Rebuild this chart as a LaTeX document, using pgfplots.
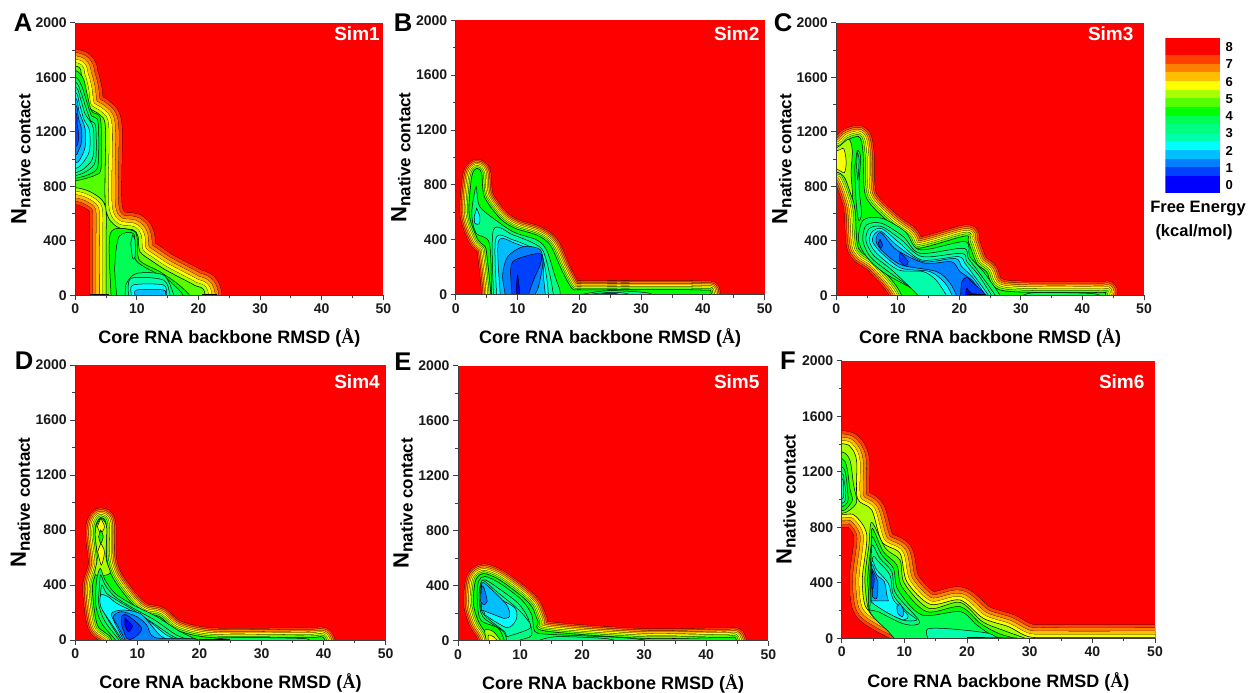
\documentclass[border=0pt]{standalone}
\usepackage{fontspec}
\usepackage{pgfplots}
\usepackage{pgfplotstable}
\pgfplotsset{compat=1.18}
\setmainfont{Liberation Sans}
\newfontfamily\lserif{Liberation Serif}
\definecolor{cA}{HTML}{FF4000}\definecolor{cB}{HTML}{FF8000}\definecolor{cC}{HTML}{FFBF00}
\definecolor{cD}{HTML}{FFFF00}\definecolor{cE}{HTML}{AAFF00}\definecolor{cF}{HTML}{55FF00}
\definecolor{cG}{HTML}{00FF00}\definecolor{cH}{HTML}{00FF55}\definecolor{cI}{HTML}{00FF80}
\definecolor{cJ}{HTML}{00FFAA}\definecolor{cK}{HTML}{00FFFF}\definecolor{cL}{HTML}{00BFFF}
\definecolor{cM}{HTML}{0080FF}\definecolor{cN}{HTML}{0040FF}\definecolor{cO}{HTML}{0000FF}
\definecolor{cR}{HTML}{FF0000}
\newcommand{\ring}[3]{%
 \addplot[black,smooth,line join=round,line width=#3 pt+0.55pt] table {#1};
 \addplot[#2,smooth,line join=round,line width=#3 pt] table {#1};}
\newcommand{\shellfour}[2]{\ring{#1}{cA}{8*#2}\ring{#1}{cB}{6*#2}\ring{#1}{cC}{4*#2}\ring{#1}{cD}{2*#2}}
\newcommand{\shellfive}[2]{\ring{#1}{cA}{10*#2}\ring{#1}{cB}{8*#2}\ring{#1}{cC}{6*#2}\ring{#1}{cD}{4*#2}\ring{#1}{cE}{2*#2}}
\newcommand{\shellsix}[2]{\ring{#1}{cA}{12*#2}\ring{#1}{cB}{10*#2}\ring{#1}{cC}{8*#2}\ring{#1}{cD}{6*#2}\ring{#1}{cE}{4*#2}\ring{#1}{cF}{2*#2}}
\newcommand{\pfill}[2]{\addplot[fill=#2,draw=black,line width=0.55pt,smooth] table {#1};}
\newcommand{\reg}[2]{\addplot[fill=#1,draw=black,line width=0.5pt,smooth] coordinates {#2} -- cycle;}
\pgfplotstableread{
x y
5.0 -300
5.0 0
5.0 400
4.9 650
3.2 740
0 790
-8 800
-8 1680
0 1682
1.0 1616
1.6 1518
2.1 1384
4.0 1323
4.9 1225
4.9 650
6.7 504
9.4 480
10.2 430
10.5 320
12.5 250
14.5 190
17 130
19.5 70
21 20
21.5 -300
}\pA
\pgfplotstableread{
x y
5.66 -300
5.66 10
5.0 300
4.75 350
3.5 410
2.16 593
2.6 861
3.4 921
4.2 885
4.64 715
7.17 556
9.6 484
13.1 435
15.3 362
17.15 180
18.8 46
20.1 36
27.1 36
39.8 34
41.4 0
42 -300
}\pB
\pgfplotstableread{
x y
10.6 -300
10.6 0
6.55 235
3.6 345
3.1 600
2.7 700
1.4 860
0 905
-8 905
-8 1082
0 1082
2 1145
3.6 1165
4.1 1127
4.4 1017
4.8 724
8.45 540
11.7 430
13.3 345
20.9 435
21.45 394
22.8 235
24.4 174
27.1 34
42.6 20
43.7 0
44 -300
}\pC
\pgfplotstableread{
x y
5.85 -300
5.85 0
3.55 109
2.75 376
3.4 497
3.7 570
3.2 764
3.4 848
4.1 890
4.95 848
5.05 594
6.1 448
9.1 267
11.2 194
13.6 170
16.3 73
22.2 17
37.3 17
40.2 0
40.8 -300
}\pD
\pgfplotstableread{
x y
4.9 -300
4.9 0
3.3 139
2.5 260
2.6 382
3 455
4.1 489
6.5 448
10 333
11.9 248
12.9 139
14 71
29.9 17
42.75 22
44.9 0
45.4 -300
}\pE
\pgfplotstableread{
x y
9.85 -300
9.85 0
9 72
6.1 144
3.8 228
3.3 432
4 744
2.1 884
0 893
-8 893
-8 1402
0 1402
1.6 1368
2.4 1272
2.5 1008
4.8 924
6.4 696
9.3 612
10.4 408
14.1 245
18.9 276
22.6 144
26.6 84
29.8 12
34 5
51 5
58 5
58 -300
}\pF
\pgfplotsset{panel/.style={
 scale only axis,xmin=0,xmax=50,ymin=0,ymax=2000,
 axis lines=left,axis line style={-,line width=0.9pt,color=black!75},
 axis background/.style={fill=cR},
 xtick={0,10,20,30,40,50},ytick={0,400,800,1200,1600,2000},minor tick num=1,
 tick align=outside,major tick length=5pt,minor tick length=3pt,
 tick style={line width=0.9pt,color=black!75},
 /pgf/number format/1000 sep={},/pgf/number format/assume math mode=true,
 tick label style={font=\bfseries\fontsize{14}{14}\selectfont,color=black!90},
 axis on top,
 xlabel={Core RNA backbone RMSD ({\lserif Å})},
 ylabel={{\fontsize{22}{22}\selectfont N}\raisebox{-4pt}{\fontsize{17}{17}\selectfont native contact}},
 xlabel style={at={(axis description cs:0.5,-0.157)},anchor=center,font=\bfseries\fontsize{18}{18}\selectfont},
 ylabel style={at={(axis description cs:-0.177,0.5)},anchor=center,font=\bfseries},
}}
\newcommand{\lab}[3]{\node[font=\bfseries\fontsize{25.6}{26}\selectfont,inner sep=0pt] at (#1pt,#2pt) {#3};}
\newcommand{\simlab}[3]{\node[font=\bfseries\fontsize{19}{19}\selectfont,text=white,inner sep=0pt] at (#1pt,#2pt) {#3};}
\begin{document}
\begin{tikzpicture}
\path[use as bounding box] (0,0) rectangle (1251pt,693pt);
% ---------- A
\begin{axis}[panel,at={(75.3pt,397.7pt)},width=308pt,height=272.6pt]
\shellfive{\pA}{3.3}
\pfill{\pA}{cF}
\reg{cG}{(-3,1650)(0,1650)(1.3,1590)(1.9,1480)(2.65,1350)(4.1,1290)(4.2,940)(3.2,880)(0,840)(-3,840)}
\reg{cH}{(-3,1600)(0,1600)(1.0,1540)(1.8,1430)(2.6,1320)(3.7,1270)(3.7,960)(2.6,895)(0,858)(-3,858)}
\reg{cI}{(-3,1565)(0,1565)(0.9,1490)(1.7,1380)(2.5,1280)(3.3,1240)(3.3,990)(2,915)(0,878)(-3,878)}
\reg{cJ}{(-3,1530)(0,1530)(0.8,1450)(1.6,1330)(2.9,1230)(2.9,1020)(1.7,940)(0,900)(-3,900)}
\reg{cK}{(-3,1490)(0,1490)(0.7,1400)(1.4,1290)(2.3,1210)(2.3,1060)(1.2,970)(0,930)(-3,930)}
\reg{cL}{(-3,1450)(0,1450)(0.6,1350)(1.6,1220)(1.6,1090)(0.8,1000)(0,970)(-3,970)}
\reg{cM}{(-3,1400)(0,1400)(0.5,1300)(1.0,1220)(1.0,1120)(0.4,1050)(0,1030)(-3,1030)}
\reg{cN}{(-3,1345)(0,1345)(0.3,1250)(0.5,1200)(0.5,1140)(0,1090)(-3,1090)}
\reg{cG}{(5.8,-40)(5.8,0)(5.7,455)(9.4,474)(10.1,406)(10.4,259)(13.7,174)(16.5,88)(18.6,0)(18.8,-40)}
\reg{cH}{(6.7,-40)(6.7,0)(6.4,210)(7.1,430)(9.5,450)(9.8,260)(13.2,160)(14.8,125)(17.3,15)(17.6,-40)}
\reg{cI}{(9.3,443)(9.7,406)(9.7,284)(9.3,271)(9.0,384)}
\reg{cI}{(8.1,-40)(8.1,0)(8.3,88)(10,161)(14.3,149)(15.9,15)(16.1,-40)}
\reg{cJ}{(8.6,-40)(8.6,0)(9.1,125)(14.3,112)(15.4,0)(15.5,-40)}
\reg{cK}{(9.1,-40)(9.1,0)(9.4,76)(14.3,76)(14.8,0)(14.9,-40)}
\reg{cL}{(9.7,-40)(9.7,0)(10,39)(14.3,39)(14.6,0)(14.7,-40)}
\addplot[black,line width=1.6pt] coordinates {(2.4,0)(5.5,0)};
\addplot[black,line width=1.6pt] coordinates {(20.5,0)(23,0)};
\end{axis}
% ---------- B
\begin{axis}[panel,at={(455.7pt,398.3pt)},width=309pt,height=274.4pt]
\shellsix{\pB}{1.5}
\pfill{\pB}{cG}
\reg{cI}{(5.8,-40)(5.8,0)(5.45,375)(3.3,448)(2.6,593)(3.3,788)(3.9,642)(7.2,520)(9.6,452)(13.1,399)(14.7,326)(16.1,131)(16.9,22)(16.6,-40)}
\reg{cK}{(3.4,630)(3.9,569)(3.8,516)(3.1,520)(3.0,569)}
\reg{cJ}{(6.1,-40)(6.1,0)(6.1,472)(9.3,435)(12.6,375)(14.2,314)(15.3,131)(15.8,0)(15.8,-40)}
\reg{cK}{(6.6,-40)(6.6,0)(6.5,411)(9.3,399)(12.6,338)(13.9,302)(14.7,131)(15,0)(15,-40)}
\reg{cL}{(7.2,-40)(7.2,0)(6.9,387)(9.6,375)(13.9,277)(14.2,131)(14.5,0)(14.5,-40)}
\reg{cM}{(8,-40)(8,0)(7.6,143)(8.4,277)(10.9,350)(13.6,331)(14.1,229)(13.4,58)(12.8,0)(12.8,-40)}
\reg{cN}{(9.1,-40)(9.1,0)(8.9,180)(9.6,253)(13.6,302)(13.75,229)(12.6,107)(11.8,0)(11.8,-40)}
\reg{cO}{(9.8,-40)(9.8,0)(10,143)(10.4,0)(10.4,-40)}
\reg{cI}{(20.4,-40)(20.4,0)(23.9,27)(27.1,27)(31.4,10)(33,-40)}
\reg{cK}{(21.7,-40)(21.7,0)(24.4,15)(26.6,15)(28.2,0)(28.2,-40)}
\reg{cN}{(23,-40)(23,0)(25,10)(26.6,0)(26.6,-40)}
\addplot[black,line width=1.4pt] coordinates {(4.4,0)(5.2,0)};
\addplot[black,line width=1.4pt] coordinates {(38,0)(44,0)};
\end{axis}
% ---------- C
\begin{axis}[panel,at={(836.3pt,397.7pt)},width=307.7pt,height=272.6pt]
\shellsix{\pC}{1.8}
\pfill{\pC}{cG}
\reg{cE}{(-3,1082)(0,1082)(2,1145)(2.6,1060)(2.4,900)(2.6,720)(1.4,860)(0,905)(-3,905)}
\reg{cD}{(-3,1060)(0,1060)(1.2,1075)(1.6,980)(1.3,900)(0,925)(-3,925)}
\reg{cH}{(3.4,1066)(3.95,1017)(3.7,797)(4.1,601)(3.6,552)(3.2,699)(3.0,944)}
\reg{cI}{(3.4,1054)(3.7,993)(3.5,846)(3.3,944)}
\reg{cH}{(14.7,-40)(14.7,-10)(7.9,161)(4.9,284)(3.6,406)(4.4,553)(7.4,565)(11.2,467)(13.6,333)(20.9,394)(21.7,284)(23.9,174)(26.6,0)(26.6,-40)}
\reg{cI}{(14.1,-40)(14.1,-10)(8.45,174)(5.5,284)(4.3,406)(4.9,516)(7.4,528)(10.9,430)(13.6,308)(20.6,345)(21.45,271)(23.3,161)(25.8,0)(25.8,-40)}
\reg{cJ}{(13.5,-40)(13.5,-10)(9,186)(6,296)(4.8,406)(5.4,491)(7.4,504)(10.6,406)(13.9,284)(20.4,308)(21.2,247)(23.1,149)(25.2,0)(25.2,-40)}
\reg{cK}{(18,-40)(18,-10)(16.2,112)(14.1,174)(10.1,186)(6.55,308)(5.4,394)(5.8,465)(7.4,489)(10.35,381)(13.9,259)(19.8,284)(20.9,235)(22.5,137)(24.7,0)(24.7,-40)}
\reg{cL}{(18.9,-40)(18.9,-10)(17.7,88)(15.2,174)(10.6,198)(7.4,308)(5.9,394)(6.3,455)(7.4,467)(10.1,357)(14.1,247)(19.3,271)(20.4,210)(22.3,125)(24.2,0)(24.2,-40)}
\reg{cM}{(19.6,-40)(19.6,-10)(18.5,88)(16.3,174)(10.6,222)(7.6,320)(6.45,394)(6.7,443)(7.4,455)(9.8,333)(14.4,235)(18.7,247)(20.1,174)(22,112)(23.9,0)(23.9,-40)}
\reg{cN}{(7.1,411)(7.5,369)(7.2,345)(6.8,381)}
\reg{cN}{(10.35,315)(11.7,247)(11.15,215)(10.2,259)}
\reg{cN}{(20.2,-40)(20.2,0)(20.4,100)(21.2,132)(22.3,88)(24.4,0)(24.4,-40)}
\reg{cO}{(21,-40)(21,0)(21.2,51)(21.9,15)(24.4,0)(24.4,-40)}
\reg{cH}{(30.4,-40)(30.4,0)(32.6,20)(40.7,15)(42.8,0)(42.8,-40)}
\addplot[black,line width=1.6pt] coordinates {(21.2,0)(24.2,0)};
\addplot[black,line width=1.2pt] coordinates {(12,0)(14.5,0)};
\end{axis}
% ---------- D
\begin{axis}[panel,at={(75.3pt,53pt)},width=310.4pt,height=275pt]
\shellsix{\pD}{1.6}
\pfill{\pD}{cG}
\reg{cE}{(4.1,890)(5.05,825)(4.95,595)(5.6,485)(3.2,475)(3.55,595)(3.2,764)(3.4,836)}
\reg{cD}{(4.1,885)(4.7,824)(4.1,776)(3.55,824)}
\reg{cD}{(4.1,703)(4.7,642)(4.2,545)(3.6,642)}
\reg{cG}{(4.1,800)(4.5,752)(4.1,703)(3.75,752)}
\reg{cH}{(6.65,-40)(6.65,-10)(4.25,121)(3.3,255)(3.4,424)(4,521)(4.8,436)(6.4,339)(9.35,255)(13.1,170)(16.9,61)(20.1,-10)(20.1,-40)}
\reg{cI}{(7.2,-40)(7.2,-10)(4.8,133)(3.8,255)(3.9,400)(4.1,473)(4.8,400)(6.4,315)(9.35,230)(12.8,145)(16.3,36)(19,-10)(19,-40)}
\reg{cJ}{(7.45,-40)(7.45,-10)(5.3,145)(4.1,255)(4.1,352)(4.3,400)(5.05,339)(6.65,291)(9.35,218)(12.6,121)(15.8,24)(17.9,-10)(17.9,-40)}
\reg{cK}{(7.7,-40)(7.7,-10)(5.6,133)(4.1,242)(4.1,327)(5.3,315)(6.65,267)(9.35,206)(12,133)(14.7,36)(16.9,-10)(16.9,-40)}
\reg{cL}{(7.85,-40)(7.85,-10)(6.4,121)(5.85,194)(7.7,218)(10.4,194)(12,121)(13.6,36)(15.25,-10)(15.25,-40)}
\reg{cM}{(8.15,-40)(8.15,-10)(6.9,97)(6.1,170)(7.45,206)(9.9,170)(11.5,109)(12.85,17)(19,10)(20,-10)(20,-40)}
\reg{cN}{(7.45,170)(8.3,182)(10.7,85)(9.35,12)(8.3,12)(7.45,109)}
\reg{cO}{(8.0,158)(9.2,104)(8.55,61)(8.0,109)}
\reg{cH}{(21.2,-40)(21.2,-5)(25.5,17)(36.2,12)(37.8,-5)(37.8,-40)}
\addplot[black,line width=1.2pt] coordinates {(20,0)(25,0)};
\end{axis}
% ---------- E
\begin{axis}[panel,at={(458pt,52.3pt)},width=310.3pt,height=275pt]
\shellsix{\pE}{1.6}
\pfill{\pE}{cG}
\reg{cE}{(4.6,-40)(4.6,-10)(4.35,78)(5.7,66)(7,-10)(7,-40)}
\reg{cD}{(4.9,-40)(4.9,-10)(4.9,41)(5.7,29)(6.5,-10)(6.5,-40)}
\reg{cH}{(7.55,-40)(7.55,-10)(6.5,90)(3.65,151)(3.1,309)(3.3,431)(4.35,467)(6.75,418)(10.25,297)(11.9,187)(12.4,66)(14.8,46)(26.6,22)(32,-10)(32,-40)}
\reg{cI}{(7.85,-40)(7.85,-10)(7.3,66)(4,175)(3.4,309)(3.65,418)(4.35,443)(6.5,382)(9.7,272)(11.3,163)(11.9,41)(10,5)(9.5,-10)(9.5,-40)}
\reg{cJ}{(7.55,66)(4,200)(3.55,345)(3.8,431)(4.35,431)(6.2,358)(9.2,248)(11,163)(11.6,90)(7.85,29)}
\reg{cK}{(4,236)(3.65,358)(4.1,418)(6.2,321)(9.2,236)(9.35,151)(7.85,95)(4.35,187)}
\reg{cL}{(3.8,224)(3.8,406)(4.6,406)(7.85,260)(8.3,175)(7.3,163)}
\reg{cM}{(3.65,285)(3.8,394)(4.2,382)(4.7,285)(4.1,260)}
\reg{cI}{(12.7,-40)(12.7,-5)(15.9,29)(23.4,17)(25.6,-5)(25.6,-40)}
\addplot[black,line width=1.2pt] coordinates {(42,0)(46,0)};
\end{axis}
% ---------- F
\begin{axis}[panel,at={(841.7pt,54.7pt)},width=313.3pt,height=277.6pt]
\shellfour{\pF}{3.2}
\pfill{\pF}{cE}
\reg{cF}{(-3,1344)(0,1344)(1.3,1285)(1.9,1104)(2.4,984)(1.3,924)(0,900)(-3,900)}
\reg{cG}{(-3,1296)(0,1296)(0.8,1236)(1.3,1080)(1.7,996)(0.8,936)(0,919)(-3,919)}
\reg{cH}{(-3,1236)(0,1236)(0.65,1176)(0.95,1056)(0.95,984)(0,948)(-3,948)}
\reg{cI}{(-3,1188)(0,1188)(0.4,1128)(0.65,1056)(0.55,996)(0,972)(-3,972)}
\reg{cJ}{(-3,1152)(0,1152)(0.3,1080)(0.3,1032)(0,1003)(-3,1003)}
\reg{cF}{(9.85,-40)(9.85,-10)(8,84)(5.05,156)(4.15,228)(3.7,432)(4.35,672)(4.8,835)(7,648)(9.3,564)(10,396)(13.9,216)(18.9,259)(22.45,120)(26.05,53)(29.8,-10)(29.8,-40)}
\reg{cG}{(9.3,-40)(9.3,-10)(7.7,60)(4.8,168)(4.5,240)(4.15,432)(4.7,672)(4.9,792)(6.65,624)(8.8,528)(9.6,372)(13.55,192)(18.9,228)(22.1,108)(25,36)(28.2,-10)(28.2,-40)}
\reg{cH}{(8.5,-40)(8.5,-10)(7.45,48)(4.5,192)(4.4,384)(4.7,624)(4.9,732)(6.4,600)(8.25,504)(9,348)(12.8,168)(18.9,192)(21.55,96)(23.9,24)(26.05,-10)(26.05,-40)}
\reg{cI}{(4.5,204)(4.7,600)(4.95,672)(6.1,576)(8,480)(8.6,324)(12.3,132)(11.7,96)(9.6,108)(5.85,192)}
\reg{cJ}{(13.8,-40)(13.8,-10)(13.7,67)(17.55,67)(23.4,36)(25,-10)(25,-40)}
\reg{cJ}{(4.7,264)(4.9,576)(5.85,552)(7.7,456)(8.25,312)(10.4,192)(12,132)(9.6,132)(6.4,216)}
\reg{cK}{(4.7,264)(4.8,552)(5.6,492)(7.45,396)(8.25,276)(10.55,168)(9.85,132)(7.45,180)(5.3,240)}
\reg{cL}{(4.7,269)(4.8,528)(5.6,456)(6.8,408)(7.2,312)(7.45,269)}
\reg{cL}{(9.3,252)(9.85,204)(9.7,156)(8.95,180)(8.8,228)}
\reg{cM}{(4.8,504)(5.75,408)(5.6,288)(4.9,300)}
\reg{cN}{(4.8,492)(5.2,432)(5,360)(4.8,360)}
\addplot[black,line width=1.2pt] coordinates {(20,5)(28,0)};
\end{axis}
% ---------- colour bar
\begin{axis}[scale only axis,at={(1165.3pt,500.3pt)},width=54.7pt,height=155pt,
 xmin=0,xmax=1,ymin=-0.45,ymax=8.55,hide x axis,axis y line*=right,axis line style={draw=none},
 ytick={0,1,2,3,4,5,6,7,8},major tick length=0pt,
 tick label style={font=\bfseries\fontsize{13}{13}\selectfont,xshift=2pt},
 /pgf/number format/assume math mode=true]
\addplot[fill=cO,draw=none] coordinates {(0,-0.45)(1,-0.45)(1,0.54)(0,0.54)} -- cycle;
\addplot[fill=cN,draw=none] coordinates {(0,0.54)(1,0.54)(1,1.04)(0,1.04)} -- cycle;
\addplot[fill=cM,draw=none] coordinates {(0,1.04)(1,1.04)(1,1.53)(0,1.53)} -- cycle;
\addplot[fill=cL,draw=none] coordinates {(0,1.53)(1,1.53)(1,2.03)(0,2.03)} -- cycle;
\addplot[fill=cK,draw=none] coordinates {(0,2.03)(1,2.03)(1,2.53)(0,2.53)} -- cycle;
\addplot[fill=cJ,draw=none] coordinates {(0,2.53)(1,2.53)(1,3.03)(0,3.03)} -- cycle;
\addplot[fill=cI,draw=none] coordinates {(0,3.03)(1,3.03)(1,3.53)(0,3.53)} -- cycle;
\addplot[fill=cH,draw=none] coordinates {(0,3.53)(1,3.53)(1,4.03)(0,4.03)} -- cycle;
\addplot[fill=cG,draw=none] coordinates {(0,4.03)(1,4.03)(1,4.53)(0,4.53)} -- cycle;
\addplot[fill=cF,draw=none] coordinates {(0,4.53)(1,4.53)(1,5.03)(0,5.03)} -- cycle;
\addplot[fill=cE,draw=none] coordinates {(0,5.03)(1,5.03)(1,5.53)(0,5.53)} -- cycle;
\addplot[fill=cD,draw=none] coordinates {(0,5.53)(1,5.53)(1,6.03)(0,6.03)} -- cycle;
\addplot[fill=cC,draw=none] coordinates {(0,6.03)(1,6.03)(1,6.53)(0,6.53)} -- cycle;
\addplot[fill=cB,draw=none] coordinates {(0,6.53)(1,6.53)(1,7.03)(0,7.03)} -- cycle;
\addplot[fill=cA,draw=none] coordinates {(0,7.03)(1,7.03)(1,7.54)(0,7.54)} -- cycle;
\addplot[fill=cR,draw=none] coordinates {(0,7.54)(1,7.54)(1,8.55)(0,8.55)} -- cycle;
\end{axis}
% ---------- texts
\lab{23}{670}{A}\lab{403}{670}{B}\lab{783}{670}{C}
\lab{24}{332}{D}\lab{403}{331}{E}\lab{788}{332}{F}
\simlab{357}{659}{Sim1}\simlab{736.7}{659}{Sim2}\simlab{1110.7}{659}{Sim3}
\simlab{357}{311}{Sim4}\simlab{736.7}{311}{Sim5}\simlab{1121.7}{311}{Sim6}
\node[font=\bfseries\fontsize{16.5}{17}\selectfont,inner sep=0pt] at (1198pt,484pt) {Free Energy};
\node[font=\bfseries\fontsize{16.5}{17}\selectfont,inner sep=0pt] at (1194pt,461pt) {(kcal/mol)};
\end{tikzpicture}
\end{document}
